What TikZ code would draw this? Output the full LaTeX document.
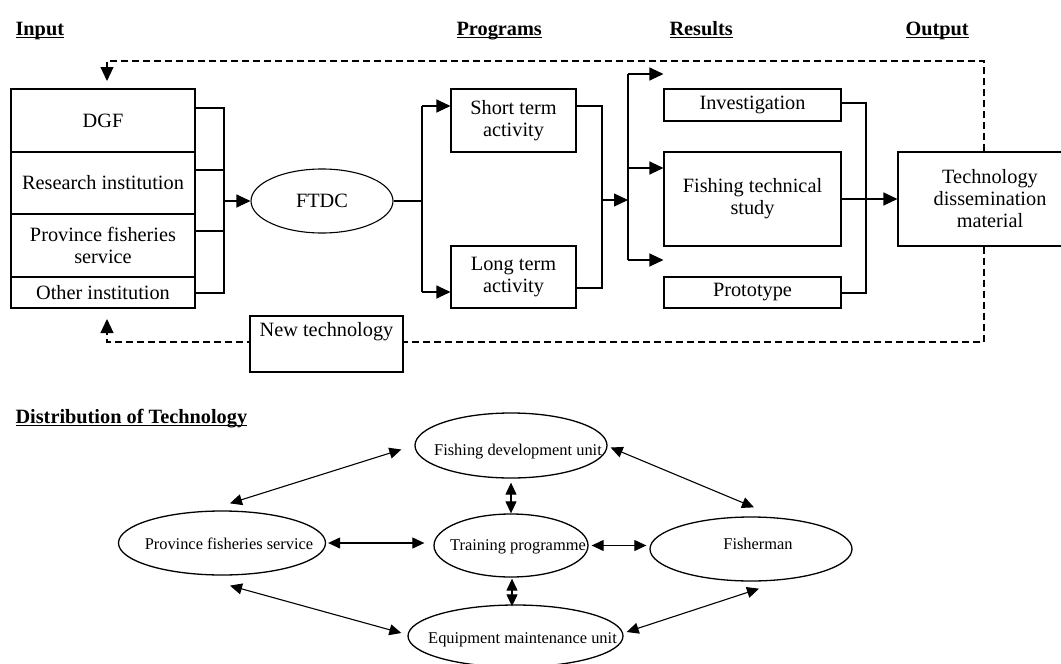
\documentclass[tikz,border=0pt]{standalone}
\usepackage{fontspec}
\setmainfont{Liberation Serif}
\usetikzlibrary{shapes.geometric,arrows.meta,calc}

% heading text with a Word-style underline just below the baseline
\newcommand\hdrline[1]{\setbox0\hbox{#1}\rlap{\rule[-3.2pt]{\wd0}{1.6pt}}\box0}
% oval caption: takes no room in the ellipse, baseline #1 below its centre,
% and sits a little to the right
\newcommand\ovaltext[2]{\makebox[0pt]{\hspace{14pt}\raisebox{-#1}[0pt][0pt]{#2}}}

\begin{document}
\begin{tikzpicture}[x=1pt,y=-1pt,
  line width=1.1pt,
  txt/.style={font=\fontsize{20.3}{22}\selectfont},
  smalltxt/.style={font=\fontsize{16.4}{19}\selectfont},
  hdr/.style={font=\fontsize{20.3}{24}\selectfont\bfseries, anchor=base west, inner sep=0pt},
  box/.style={draw, rectangle, txt, align=center, inner sep=0pt, fill=white},
  oval/.style={draw, ellipse, inner sep=0pt, line width=1.3pt},
  arr/.style={-{Triangle[length=14pt,width=13pt]}},
  darr/.style={{Triangle[length=12pt,width=11pt]}-{Triangle[length=12pt,width=11pt]}},
  feedback/.style={dash pattern=on 7pt off 4pt},
]
\clip (0,0) rectangle (1061,664);
\fill[white] (0,0) rectangle (1061,664);

% ---------- column headings ----------
\node[hdr] (hin)  at (15,35)  {\hdrline{Input}};
\node[hdr] (hprg) at (456,35) {\hdrline{Programs}};
\node[hdr] (hres) at (669,35) {\hdrline{Results}};
\node[hdr] (hout) at (905,35) {\hdrline{Output}};

% ---------- input institutions ----------
\node[box, minimum width=184pt, minimum height=63pt] (dgf)  at (103,120.5) {DGF};
\node[box, minimum width=184pt, minimum height=62pt] (res)  at (103,183)   {Research institution};
\node[box, minimum width=184pt, minimum height=63pt] (pfsv) at (103,245.5) {Province fisheries\\service};
\node[box, minimum width=184pt, minimum height=31pt] (oth)  at (103,292.5) {Other institution};

\node[draw, ellipse, txt, inner sep=0pt, minimum width=142pt, minimum height=64pt] (ftdc) at (322,201) {FTDC};

\coordinate (inA) at (224,108);
\coordinate (inB) at (224,170);
\coordinate (inC) at (224,231);
\coordinate (inD) at (224,293);
\coordinate (inM) at (224,201);
\draw (dgf.east |- inA) -- (inA) -- (inD) -- (oth.east |- inD);
\draw (res.east |- inB) -- (inB);
\draw (pfsv.east |- inC) -- (inC);
\draw[arr] (inM) -- (ftdc.west);

% ---------- programs ----------
\node[box, minimum width=125pt, minimum height=63pt] (st) at (513.5,120.5) {Short term\\activity};
\node[box, minimum width=125pt, minimum height=62pt] (lt) at (513.5,277)   {Long term\\activity};

\coordinate (fA) at (422,106);
\coordinate (fB) at (422,292);
\draw (ftdc.east) -- (ftdc.east -| fA);
\draw (fA) -- (fB);
\draw[arr] (fA) -- (st.west |- fA);
\draw[arr] (fB) -- (lt.west |- fB);

\coordinate (pA) at (602,106);
\coordinate (pB) at (602,288);
\coordinate (pM) at (602,200);
\draw (st.east |- pA) -- (pA) -- (pB) -- (lt.east |- pB);

% ---------- results ----------
\node[box, minimum width=177pt, minimum height=32pt] (inv)   at (752.5,105)   {Investigation};
\node[box, minimum width=177pt, minimum height=94pt] (fts)   at (752.5,199)   {Fishing technical\\study};
\node[box, minimum width=177pt, minimum height=31pt] (proto) at (752.5,292.5) {Prototype};

\coordinate (rA) at (628,74);
\coordinate (rC) at (628,168);
\coordinate (rB) at (628,260);
\coordinate (rM) at (628,200);
\draw[arr] (pM) -- (rM);
\draw (rA) -- (rB);
\draw[arr] (rA) -- (inv.west |- rA);
\draw[arr] (rC) -- (fts.west |- rC);
\draw[arr] (rB) -- (proto.west |- rB);

% ---------- output ----------
\node[box, minimum width=184pt, minimum height=94pt] (tech) at (990,199) {Technology\\dissemination\\material};

\coordinate (oA) at (866,103);
\coordinate (oB) at (866,293);
\draw (inv.east |- oA) -- (oA) -- (oB) -- (proto.east |- oB);
\draw[arr] (fts.east) -- (tech.west);

% ---------- feedback loop ----------
\coordinate (fbR1) at (984,61);
\coordinate (fbL1) at (107,61);
\coordinate (fbIn) at (107,81);
\coordinate (fbR2) at (984,342);
\coordinate (fbL2) at (107,342);
\coordinate (fbOut) at (107,319);
\draw[feedback, arr] (tech.north -| fbR1) -- (fbR1) -- (fbL1) -- (fbIn);
\draw[feedback, arr] (tech.south -| fbR2) -- (fbR2) -- (fbL2) -- (fbOut);

\node[box, minimum width=153pt, minimum height=56pt, inner ysep=6pt,
      text height=14pt, text depth=30pt] (newt) at (326.5,344) {New technology};

% ---------- distribution of technology ----------
\node[hdr] (hdist) at (15,423) {\hdrline{Distribution of Technology}};

\node[oval, smalltxt, minimum width=192pt, minimum height=65pt] (fdu)   at (511,445.5) {\ovaltext{10pt}{Fishing development unit}};
\node[oval, smalltxt, minimum width=154pt, minimum height=63pt] (train) at (511,545.5) {\ovaltext{5pt}{Training programme}};
\node[oval, smalltxt, minimum width=207pt, minimum height=64pt] (pfs)   at (222,543)   {\ovaltext{6pt}{Province fisheries service}};
\node[oval, smalltxt, minimum width=202pt, minimum height=64pt] (fish)  at (751,549)   {\ovaltext{0pt}{Fisherman}};
\node[oval, smalltxt, minimum width=215pt, minimum height=62pt] (emu)   at (515.5,636) {\ovaltext{7pt}{Equipment maintenance unit}};

\draw[darr] ($(pfs.north)+(8,-7)$) -- ($(fdu.west)+(-13,4)$);
\draw[darr] ($(pfs.east)+(2,0)$) -- ($(train.west |- pfs.east)+(-9,0)$);
\draw[darr] ($(pfs.south)+(8,10)$) -- ($(emu.west)+(-6,-3)$);
\draw[darr] ($(fdu.south)+(0,4)$) -- (train.north);
\draw[darr] ($(train.south)+(1,1)$) -- ($(train.south |- emu.north)+(1,2)$);
\draw[darr] ($(train.east)+(3,0)$) -- ($(fish.west |- train.east)+(-3,0)$);
\draw[darr] ($(fdu.east)+(3,2)$) -- ($(fish.north)+(3,-9)$);
\draw[darr] ($(emu.east)+(3,-4)$) -- ($(fish.south)+(8,7)$);
\end{tikzpicture}
\end{document}
